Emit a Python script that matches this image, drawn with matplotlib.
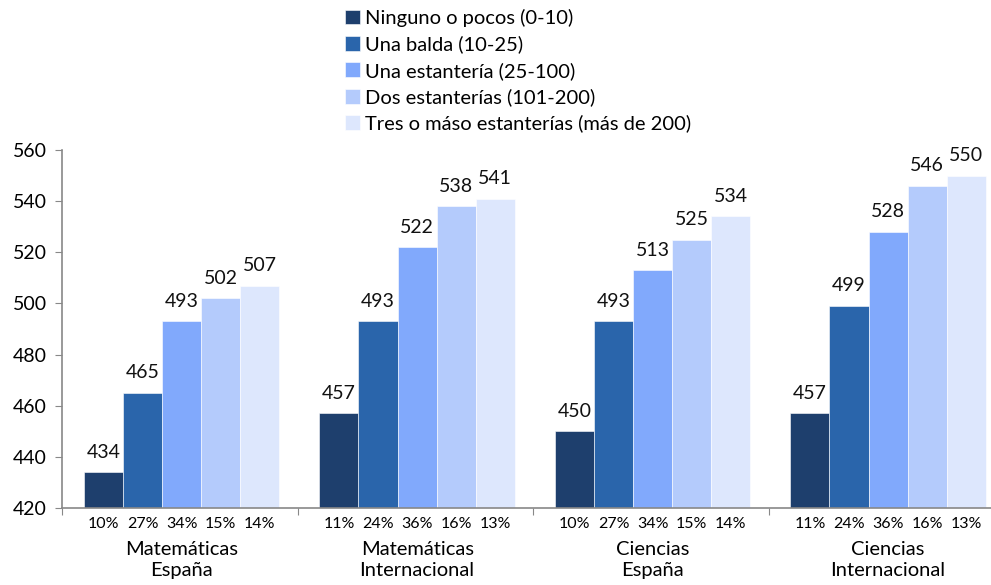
import numpy as np
import matplotlib.pyplot as plt
from matplotlib.transforms import blended_transform_factory

plt.rcParams['font.family'] = ['Lato', 'DejaVu Sans']

groups = ['Matemáticas\nEspaña', 'Matemáticas\nInternacional',
          'Ciencias\nEspaña', 'Ciencias\nInternacional']
series = ['Ninguno o pocos (0-10)', 'Una balda (10-25)', 'Una estantería (25-100)',
          'Dos estanterías (101-200)', 'Tres o máso estanterías (más de 200)']
ninguno = [434, 457, 450, 457]
balda = [465, 493, 493, 499]
estanteria = [493, 522, 513, 528]
dos_est = [502, 538, 525, 546]
tres_est = [507, 541, 534, 550]
pct = [[10, 27, 34, 15, 14],
       [11, 24, 36, 16, 13],
       [10, 27, 34, 15, 14],
       [11, 24, 36, 16, 13]]
colors = ['#1E3F6D', '#2A65AB', '#81A9FC', '#B4CBFC', '#DDE7FD']

values = [ninguno, balda, estanteria, dos_est, tres_est]

fig = plt.figure(figsize=(9.91, 5.85), dpi=100)
ax = fig.add_axes([62/991, 1-508/585, 1-62/991, 358/585])

x = np.arange(len(groups))
w = 0.166
offsets = (np.arange(5) - 2) * w + 0.008

for i, vals in enumerate(values):
    bars = ax.bar(x + offsets[i], vals, w, color=colors[i], label=series[i],
                  edgecolor='white', linewidth=0.4)
    for b, v in zip(bars, vals):
        ax.text(b.get_x() + b.get_width()/2, v + 4.5, str(v), ha='center', va='bottom',
                fontsize=14, color='#111111')

ax.set_ylim(420, 560)
ax.set_yticks(np.arange(420, 561, 20))
ax.set_xlim(-0.5, -0.5 + 929/235.5)
ax.set_xticks(np.arange(len(groups)) - 0.5)
ax.set_xticklabels([])
ax.tick_params(axis='x', length=5, color='#888888')
ax.tick_params(axis='y', length=5, color='#888888', labelsize=14, pad=6)
for s in ['top', 'right']:
    ax.spines[s].set_visible(False)
for s in ['left', 'bottom']:
    ax.spines[s].set_color('#888888')
    ax.spines[s].set_linewidth(1.2)

trans = blended_transform_factory(ax.transData, ax.transAxes)
for gi in range(len(groups)):
    for i in range(5):
        ax.text(x[gi] + offsets[i], -0.026, f'{pct[gi][i]}%', transform=trans,
                ha='center', va='top', fontsize=11.5)
    ax.text(x[gi] + 0.008, -0.093, groups[gi], transform=trans, ha='center', va='top',
            fontsize=14.5, linespacing=1.3)

fig.legend(loc='upper left', bbox_to_anchor=(336/991, 1.0), frameon=False,
           fontsize=14.5, handlelength=0.75, handleheight=0.75, handletextpad=0.25,
           labelspacing=0.42, borderaxespad=0.05)

fig.savefig('out.png', dpi=100)
